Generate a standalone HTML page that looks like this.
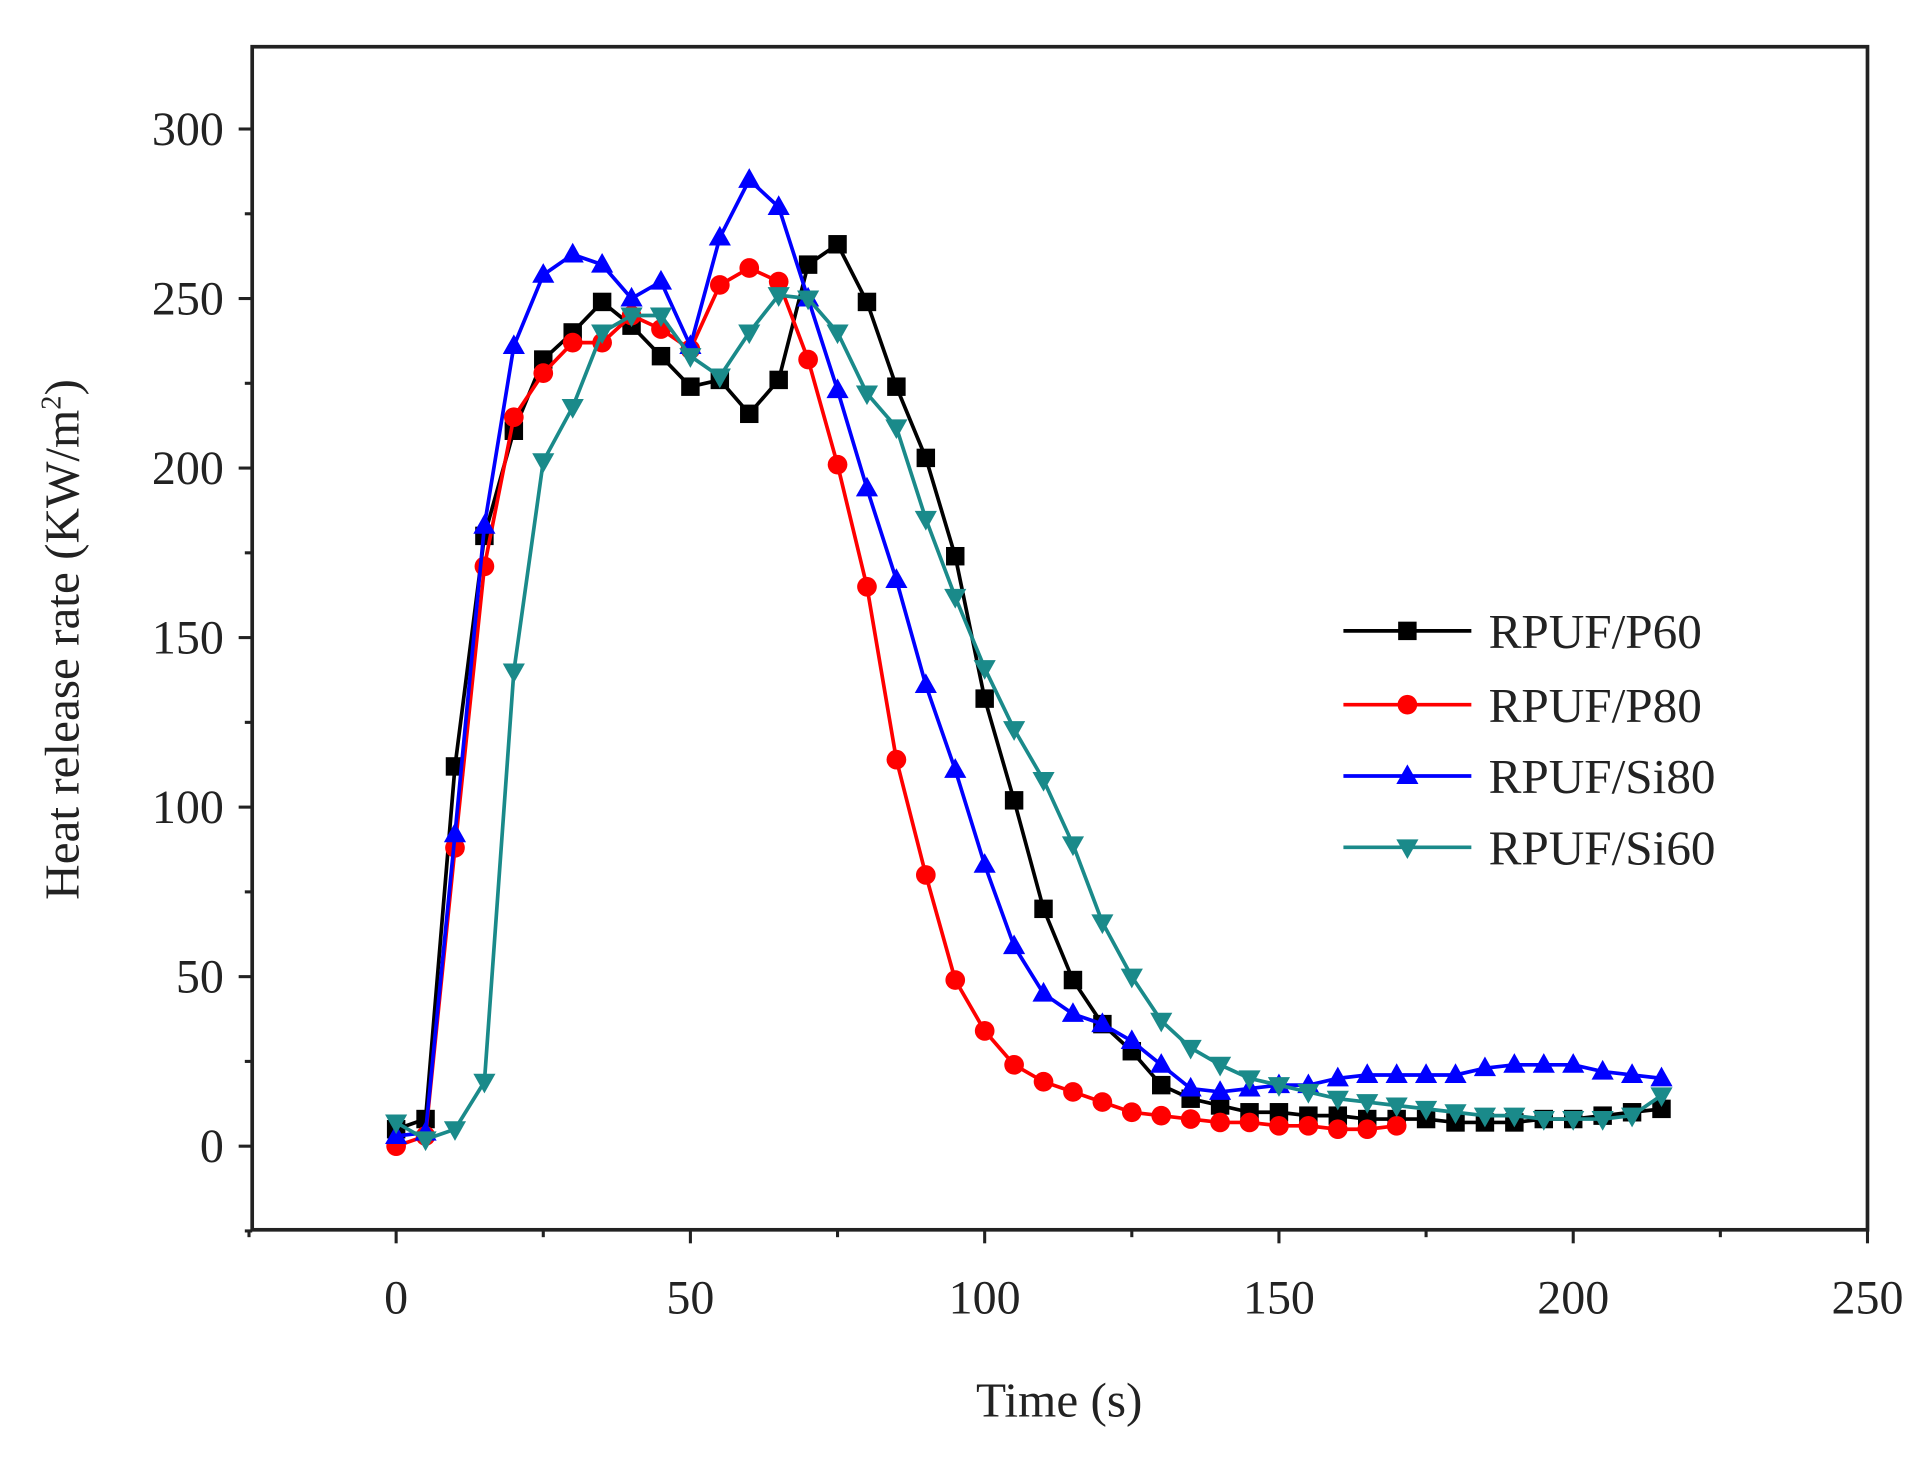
<!DOCTYPE html>
<html><head><meta charset="utf-8"><style>
html,body{margin:0;padding:0;background:#fff;}
svg{display:block;}
text{font-family:"Liberation Serif",serif;fill:#222;}
</style></head><body>
<svg id="s" width="1929" height="1461" viewBox="0 0 1568 1188" preserveAspectRatio="none" xmlns="http://www.w3.org/2000/svg">
<rect x="0" y="0" width="1568" height="1188" fill="#fff"/>
<g id="g"></g>
</svg>
<script>
const X=v=>322+v*4.784, Y=v=>932-v*2.757;
let h='';
h+='<rect x="205" y="38" width="1313" height="962" fill="none" stroke="#222" stroke-width="3"/>';
for(let v=-25;v<=250;v+=25){const x=X(v);h+=`<line x1="${x}" y1="1000" x2="${x}" y2="${v%50==0?1011:1006}" stroke="#222" stroke-width="2.5"/>`;
 if(v>=0&&v%50==0)h+=`<text x="${x}" y="1068" font-size="39" text-anchor="middle">${v}</text>`;}
for(let v=-25;v<=325;v+=25){const y=Y(v);if(y<38)continue;h+=`<line x1="205" y1="${y}" x2="${v%50==0?194:199}" y2="${y}" stroke="#222" stroke-width="2.5"/>`;
 if(v>=0&&v%50==0&&v<=300)h+=`<text x="182" y="${y+13}" font-size="39" text-anchor="end">${v}</text>`;}
h+='<text x="861" y="1152" font-size="40" text-anchor="middle">Time (s)</text>';
h+='<text transform="translate(64,520) rotate(-90)" font-size="40" text-anchor="middle">Heat release rate (KW/m<tspan font-size="23" dy="-15">2</tspan><tspan dy="15">)</tspan></text>';
const P60=[5,8,112,180,211,232,240,249,242,233,224,226,216,226,260,266,249,224,203,174,132,102,70,49,36,28,18,14,12,10,10,9,9,8,8,8,7,7,7,8,8,9,10,11];
const P80=[0,3,88,171,215,228,237,237,245,241,235,254,259,255,232,201,165,114,80,49,34,24,19,16,13,10,9,8,7,7,6,6,5,5,6];
const S80=[3,4,92,183,236,257,263,260,250,255,236,268,285,277,250,223,194,167,136,111,83,59,45,39,36,31,24,17,16,17,18,18,20,21,21,21,21,23,24,24,24,22,21,20];
const S60=[7,2,5,19,140,202,218,240,245,245,233,227,240,251,250,240,222,212,185,162,141,123,108,89,66,50,37,29,24,20,18,16,14,13,12,11,10,9,9,8,8,8,9,15];
function mk(t,x,y,c){const s=7.5;
 if(t==0)return `<rect x="${x-s}" y="${y-s}" width="${2*s}" height="${2*s}" fill="${c}"/>`;
 if(t==1)return `<circle cx="${x}" cy="${y}" r="${s+0.5}" fill="${c}"/>`;
 if(t==2)return `<polygon points="${x},${y-s-2} ${x-s-1.5},${y+s-1} ${x+s+1.5},${y+s-1}" fill="${c}"/>`;
 return `<polygon points="${x},${y+s+2} ${x-s-1.5},${y-s+1} ${x+s+1.5},${y-s+1}" fill="${c}"/>`;}
const ser=[[P60,'#000',0],[P80,'#f00',1],[S80,'#00f',2],[S60,'#1a8a8a',3]];
for(const [d,c,t] of ser){let pts=d.map((v,i)=>[X(i*5),Y(v)]);
 h+=`<polyline points="${pts.map(p=>p.join(',')).join(' ')}" fill="none" stroke="${c}" stroke-width="3"/>`;
 for(const p of pts)h+=mk(t,p[0],p[1],c);}
const names=['RPUF/P60','RPUF/P80','RPUF/Si80','RPUF/Si60'],ly=[513,573,631,689];
ser.forEach(([d,c,t],i)=>{h+=`<line x1="1092" y1="${ly[i]}" x2="1196" y2="${ly[i]}" stroke="${c}" stroke-width="3"/>`+mk(t,1144,ly[i],c)+
 `<text x="1210" y="${ly[i]+14}" font-size="40">${names[i]}</text>`;});
document.getElementById('g').innerHTML=h;
</script>
</body></html>
